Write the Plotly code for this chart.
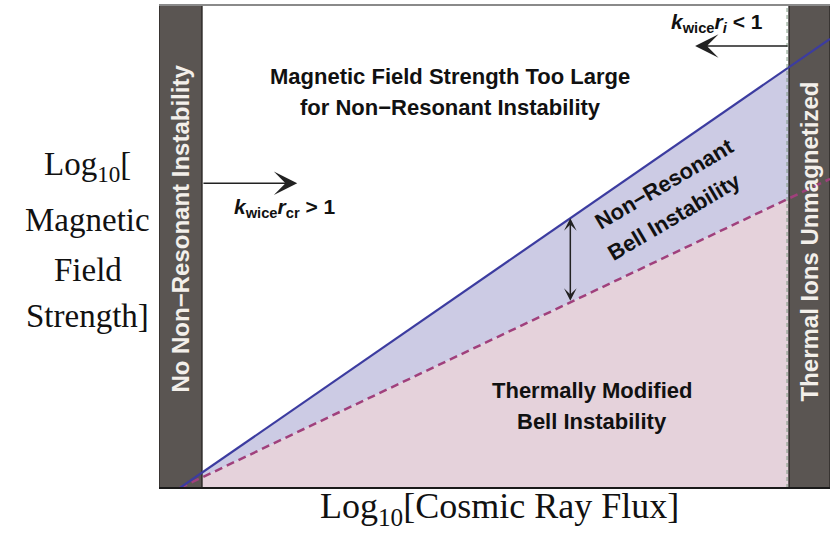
import numpy as np
import plotly.graph_objects as go

# Log10 cosmic-ray flux (arbitrary units) at the two ends of the boundary lines
log_flux = [0.31, 10.0]
# Upper boundary: field above which the non-resonant instability is suppressed
log_b_upper = [0.0, 9.3]
# Lower boundary: field below which the Bell instability is thermally modified
log_b_lower = [0.0, 6.4]

# Flux limits of the two excluded regions
no_instability_band = [0.0, 0.64]
unmagnetized_band = [9.39, 10.0]
x_range = [0.0, 10.0]
y_range = [0.0, 10.0]

BLUE = "#3c3ca0"
MAGENTA = "#a0407c"
LAVENDER = "#cccbe4"
PINK = "#e5d2db"
BAND = "#5a5552"
BAND_EDGE = "#2e2a28"
SANS = "Liberation Sans, Arial, sans-serif"
SERIF = "Liberation Serif, Times New Roman, serif"

fig = go.Figure()

# Thermally modified region (below the dashed boundary)
fig.add_trace(go.Scatter(x=log_flux, y=log_b_lower, mode="lines", line=dict(width=0),
                         fill="tozeroy", fillcolor=PINK, hoverinfo="skip"))
# Non-resonant Bell region (between the two boundaries)
fig.add_trace(go.Scatter(x=log_flux, y=log_b_upper, mode="lines", line=dict(width=0),
                         fill="tonexty", fillcolor=LAVENDER, hoverinfo="skip"))

# Grey excluded bands
for band in (no_instability_band, unmagnetized_band):
    fig.add_trace(go.Scatter(
        x=[band[0], band[1], band[1], band[0], band[0]],
        y=[y_range[0], y_range[0], y_range[1], y_range[1], y_range[0]],
        mode="lines", line=dict(color=BAND_EDGE, width=1.5),
        fill="toself", fillcolor=BAND, hoverinfo="skip"))

# Boundary lines drawn on top
fig.add_trace(go.Scatter(x=log_flux, y=log_b_lower, mode="lines",
                         line=dict(color=MAGENTA, width=2.5, dash="8px,5px"), hoverinfo="skip"))
fig.add_trace(go.Scatter(x=log_flux, y=log_b_upper, mode="lines",
                         line=dict(color=BLUE, width=2.2), hoverinfo="skip"))

# Thin dashed marker at the unmagnetized boundary
fig.add_shape(type="line", x0=unmagnetized_band[0] - 0.03, x1=unmagnetized_band[0] - 0.03,
              y0=y_range[0], y1=y_range[1], line=dict(color="#7d9a80", width=1, dash="4px,3px"))
# Frame: top edge and bottom axis
fig.add_shape(type="line", xref="paper", yref="paper", x0=0, x1=1, y0=1, y1=1,
              line=dict(color="#8a8a8a", width=2))
fig.add_shape(type="line", xref="paper", yref="paper", x0=0, x1=1, y0=0, y1=0,
              line=dict(color="#1a1a1a", width=2))

annotations = []


def label(x, y, text, size=22, angle=0, color="#111111", font=SANS, xref="x", yref="y"):
    annotations.append(dict(x=x, y=y, xref=xref, yref=yref, text=text, showarrow=False,
                            textangle=angle, xanchor="center", yanchor="middle",
                            font=dict(family=font, size=size, color=color)))


label(4.34, 8.51, "<b>Magnetic Field Strength Too Large</b>")
label(4.34, 7.87, "<b>for Non\u2212Resonant Instability</b>")
label(7.54, 6.31, "<b>Non\u2212Resonant</b>", angle=-30.5)
label(7.68, 5.63, "<b>Bell Instability</b>", angle=-30.5)
label(6.45, 2.01, "<b>Thermally Modified</b>")
label(6.45, 1.37, "<b>Bell Instability</b>")
label(1.88, 5.80, "<b><i>k</i><sub>wice</sub><i>r</i><sub>cr</sub> &gt; 1</b>", size=21)
label(8.32, 9.63, "<b><i>k</i><sub>wice</sub><i>r<sub>i</sub></i> &lt; 1</b>", size=21)
label(0.32, 5.38, "<b>No Non\u2212Resonant Instability</b>", size=24, angle=-90, color="#f3efea")
label(9.70, 5.10, "<b>Thermal Ions Unmagnetized</b>", size=24, angle=-90, color="#f3efea")

# Axis titles
label(0.508, -0.043, "Log<sub>10</sub>[Cosmic Ray Flux]", size=36, font=SERIF,
      xref="paper", yref="paper")
for text, yp in [("Log<sub>10</sub>[", 0.665), ("Magnetic", 0.555),
                 ("Field", 0.452), ("Strength]", 0.357)]:
    label(-0.106, yp, text, size=33, font=SERIF, xref="paper", yref="paper")

# Arrows marking the validity limits
annotations.append(dict(x=2.06, y=6.31, ax=no_instability_band[1], ay=6.31, xref="x", yref="y",
                        axref="x", ayref="y", text="", showarrow=True, arrowhead=3,
                        arrowsize=2.6, arrowwidth=1.5, arrowcolor="#222222"))
annotations.append(dict(x=7.99, y=9.15, ax=unmagnetized_band[0], ay=9.15, xref="x", yref="y",
                        axref="x", ayref="y", text="", showarrow=True, arrowhead=3,
                        arrowsize=2.6, arrowwidth=1.5, arrowcolor="#222222"))

# Double arrow spanning the Bell band at one flux value
arrow_x = 6.13
y_top = float(np.interp(arrow_x, log_flux, log_b_upper))
y_bot = float(np.interp(arrow_x, log_flux, log_b_lower))
annotations.append(dict(x=arrow_x, y=y_top, ax=arrow_x, ay=y_bot, xref="x", yref="y",
                        axref="x", ayref="y", text="", showarrow=True, arrowhead=3,
                        startarrowhead=3, arrowside="end+start", arrowsize=1.4,
                        startarrowsize=1.4, arrowwidth=1.5, arrowcolor="#222222"))

fig.update_layout(
    width=830, height=534,
    margin=dict(l=159, r=0, t=5, b=46),
    paper_bgcolor="white", plot_bgcolor="white",
    showlegend=False,
    xaxis=dict(range=x_range, visible=False, fixedrange=True),
    yaxis=dict(range=y_range, visible=False, fixedrange=True),
    annotations=annotations,
)

fig.write_html("out.html")
